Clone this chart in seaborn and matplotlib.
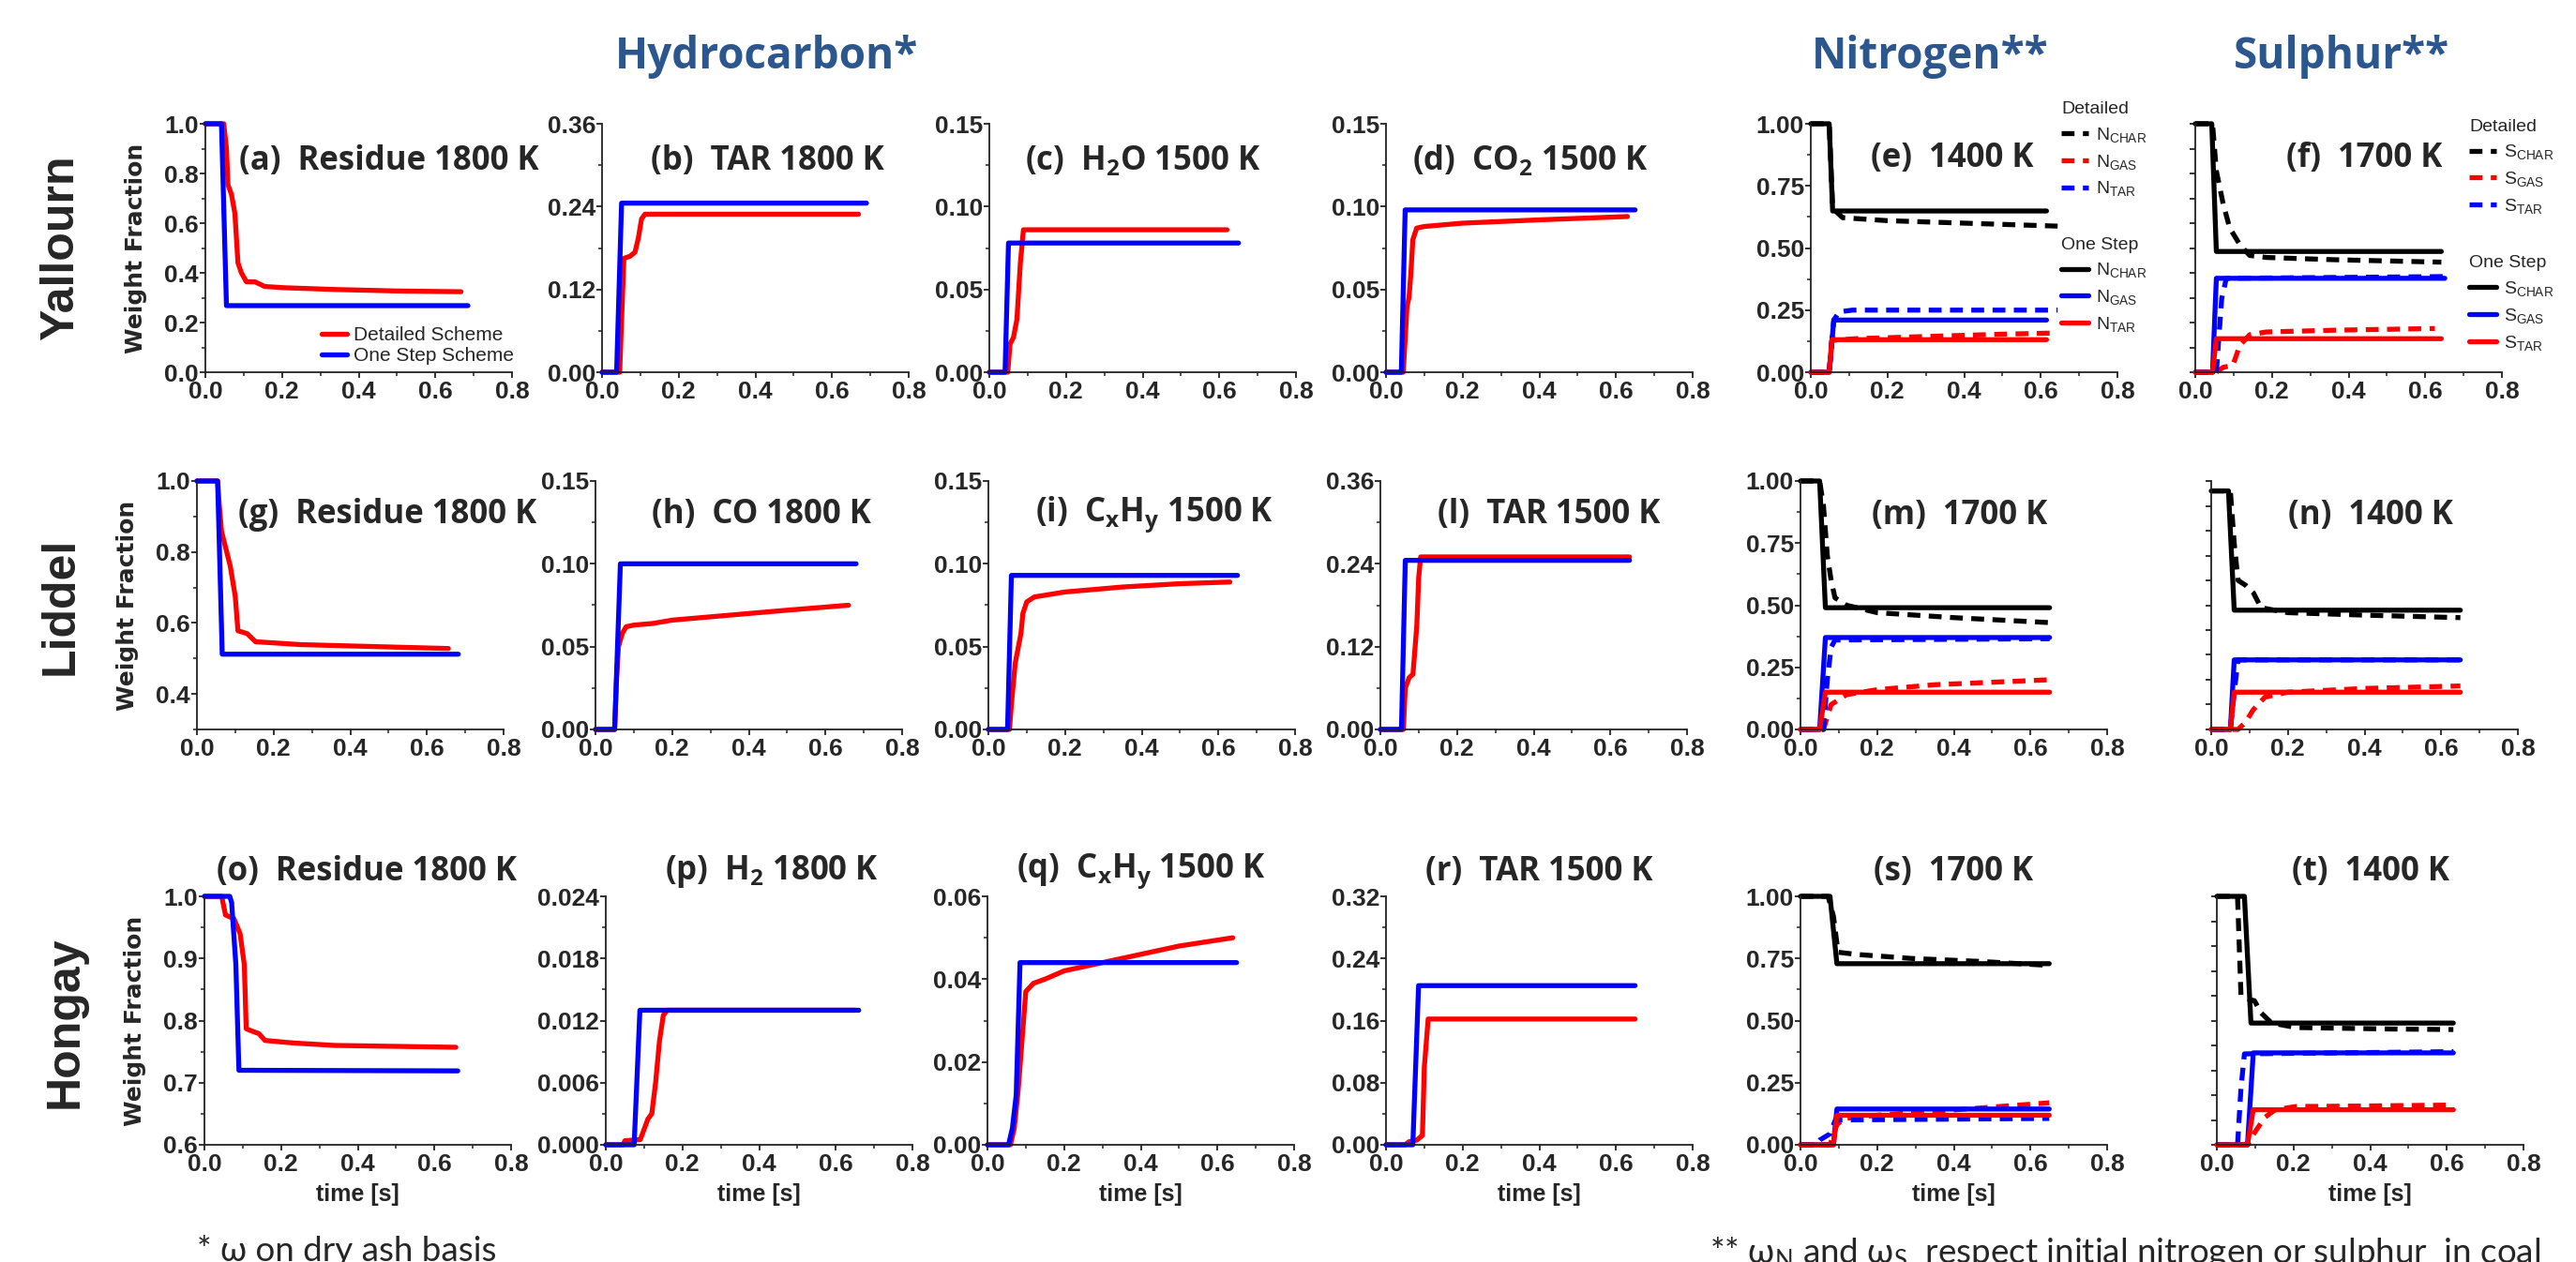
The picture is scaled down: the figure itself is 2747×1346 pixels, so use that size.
import numpy as np
import pandas as pd
import matplotlib
matplotlib.use("Agg")
import matplotlib.pyplot as plt
import seaborn as sns
from matplotlib.ticker import AutoMinorLocator, FormatStrFormatter

# ---------------- data ----------------
x_ticks = [0.0, 0.2, 0.4, 0.6, 0.8]

# Yallourn
a_det_t = [0, 0.048, 0.055, 0.059, 0.068, 0.077, 0.085, 0.094, 0.107, 0.129, 0.155, 0.207, 0.338, 0.5, 0.667]
a_det_w = [1, 1, 0.9, 0.754, 0.716, 0.64, 0.44, 0.40, 0.364, 0.364, 0.345, 0.34, 0.333, 0.327, 0.324]
a_one_t = [0, 0.042, 0.055, 0.685]
a_one_w = [1, 1, 0.268, 0.268]

b_det_t = [0, 0.046, 0.057, 0.073, 0.086, 0.095, 0.103, 0.112, 0.669]
b_det_w = [0, 0, 0.165, 0.168, 0.174, 0.195, 0.222, 0.229, 0.229]
b_one_t = [0, 0.038, 0.051, 0.69]
b_one_w = [0, 0, 0.245, 0.245]

c_det_t = [0, 0.048, 0.054, 0.063, 0.072, 0.081, 0.089, 0.62]
c_det_w = [0, 0, 0.017, 0.021, 0.032, 0.066, 0.086, 0.086]
c_one_t = [0, 0.041, 0.05, 0.65]
c_one_w = [0, 0, 0.078, 0.078]

d_det_t = [0, 0.045, 0.05, 0.055, 0.06, 0.065, 0.07, 0.08, 0.1, 0.2, 0.4, 0.63]
d_det_w = [0, 0, 0.02, 0.04, 0.045, 0.06, 0.08, 0.087, 0.088, 0.09, 0.092, 0.094]
d_one_t = [0, 0.04, 0.05, 0.65]
d_one_w = [0, 0, 0.098, 0.098]

e_char_det_t = [0, 0.048, 0.057, 0.083, 0.2, 0.4, 0.644]
e_char_det_w = [1, 1, 0.66, 0.622, 0.61, 0.60, 0.588]
e_gas_det_t = [0, 0.048, 0.055, 0.117, 0.325, 0.497, 0.644]
e_gas_det_w = [0, 0, 0.128, 0.135, 0.145, 0.153, 0.158]
e_tar_det_t = [0, 0.048, 0.06, 0.074, 0.109, 0.644]
e_tar_det_w = [0, 0, 0.21, 0.243, 0.25, 0.25]
e_char_one_t = [0, 0.048, 0.057, 0.615]
e_char_one_w = [1, 1, 0.649, 0.649]
e_gas_one_t = [0, 0.048, 0.06, 0.615]
e_gas_one_w = [0, 0, 0.21, 0.21]
e_tar_one_t = [0, 0.048, 0.055, 0.615]
e_tar_one_w = [0, 0, 0.131, 0.131]

f_char_det_t = [0, 0.045, 0.055, 0.073, 0.09, 0.116, 0.142, 0.185, 0.358, 0.642]
f_char_det_w = [1, 1, 0.81, 0.676, 0.58, 0.514, 0.47, 0.462, 0.453, 0.443]
f_gas_det_t = [0, 0.055, 0.073, 0.098, 0.116, 0.142, 0.185, 0.358, 0.625]
f_gas_det_w = [0, 0, 0.02, 0.027, 0.108, 0.151, 0.162, 0.169, 0.176]
f_tar_det_t = [0, 0.055, 0.062, 0.069, 0.081, 0.651]
f_tar_det_w = [0, 0, 0.15, 0.297, 0.378, 0.385]
f_char_one_t = [0, 0.043, 0.055, 0.642]
f_char_one_w = [1, 1, 0.486, 0.486]
f_gas_one_t = [0, 0.045, 0.055, 0.651]
f_gas_one_w = [0, 0, 0.378, 0.378]
f_tar_one_t = [0, 0.045, 0.055, 0.642]
f_tar_one_w = [0, 0, 0.135, 0.135]

# Liddel
g_det_t = [0, 0.054, 0.057, 0.064, 0.087, 0.1, 0.107, 0.131, 0.153, 0.184, 0.27, 0.445, 0.656]
g_det_w = [1, 1, 0.95, 0.859, 0.76, 0.675, 0.578, 0.57, 0.547, 0.545, 0.539, 0.534, 0.528]
g_one_t = [0, 0.054, 0.066, 0.682]
g_one_w = [1, 1, 0.512, 0.512]

h_det_t = [0, 0.05, 0.055, 0.06, 0.07, 0.08, 0.1, 0.15, 0.2, 0.3, 0.4, 0.5, 0.66]
h_det_w = [0, 0, 0.03, 0.05, 0.058, 0.062, 0.063, 0.064, 0.066, 0.068, 0.07, 0.072, 0.075]
h_one_t = [0, 0.05, 0.065, 0.68]
h_one_w = [0, 0, 0.1, 0.1]

i_det_t = [0, 0.055, 0.06, 0.07, 0.08, 0.085, 0.09, 0.1, 0.12, 0.2, 0.35, 0.5, 0.63]
i_det_w = [0, 0, 0.015, 0.04, 0.052, 0.058, 0.07, 0.077, 0.08, 0.083, 0.086, 0.088, 0.089]
i_one_t = [0, 0.05, 0.06, 0.65]
i_one_w = [0, 0, 0.093, 0.093]

l_det_t = [0, 0.06, 0.065, 0.075, 0.085, 0.095, 0.1, 0.105, 0.65]
l_det_w = [0, 0, 0.06, 0.075, 0.08, 0.15, 0.22, 0.25, 0.25]
l_one_t = [0, 0.055, 0.065, 0.65]
l_one_w = [0, 0, 0.245, 0.245]

m_char_det_t = [0, 0.05, 0.06, 0.07, 0.08, 0.09, 0.12, 0.2, 0.4, 0.65]
m_char_det_w = [1, 1, 0.9, 0.7, 0.6, 0.53, 0.5, 0.47, 0.45, 0.43]
m_gas_det_t = [0, 0.06, 0.07, 0.08, 0.1, 0.12, 0.2, 0.35, 0.5, 0.65]
m_gas_det_w = [0, 0, 0.05, 0.1, 0.12, 0.14, 0.16, 0.18, 0.19, 0.2]
m_tar_det_t = [0, 0.06, 0.07, 0.08, 0.09, 0.65]
m_tar_det_w = [0, 0, 0.2, 0.33, 0.36, 0.365]
m_char_one_t = [0, 0.05, 0.065, 0.65]
m_char_one_w = [1, 1, 0.49, 0.49]
m_gas_one_t = [0, 0.05, 0.065, 0.65]
m_gas_one_w = [0, 0, 0.37, 0.37]
m_tar_one_t = [0, 0.05, 0.065, 0.65]
m_tar_one_w = [0, 0, 0.15, 0.15]

n_char_det_t = [0, 0.05, 0.06, 0.07, 0.09, 0.11, 0.13, 0.2, 0.4, 0.65]
n_char_det_w = [0.96, 0.96, 0.75, 0.6, 0.58, 0.55, 0.49, 0.47, 0.46, 0.45]
n_gas_det_t = [0, 0.07, 0.09, 0.11, 0.14, 0.2, 0.4, 0.65]
n_gas_det_w = [0, 0, 0.03, 0.08, 0.13, 0.15, 0.165, 0.175]
n_tar_det_t = [0, 0.05, 0.06, 0.07, 0.65]
n_tar_det_w = [0, 0, 0.15, 0.28, 0.28]
n_char_one_t = [0, 0.045, 0.06, 0.65]
n_char_one_w = [0.96, 0.96, 0.48, 0.48]
n_gas_one_t = [0, 0.05, 0.06, 0.65]
n_gas_one_w = [0, 0, 0.28, 0.28]
n_tar_one_t = [0, 0.05, 0.06, 0.65]
n_tar_one_w = [0, 0, 0.15, 0.15]

# Hongay
o_det_t = [0, 0.045, 0.055, 0.077, 0.093, 0.104, 0.109, 0.12, 0.142, 0.158, 0.23, 0.339, 0.656]
o_det_w = [1, 1, 0.97, 0.964, 0.94, 0.89, 0.787, 0.784, 0.779, 0.768, 0.764, 0.76, 0.757]
o_one_t = [0, 0.066, 0.071, 0.082, 0.09, 0.661]
o_one_w = [1, 1, 0.99, 0.89, 0.72, 0.719]

p_det_t = [0, 0.045, 0.05, 0.09, 0.1, 0.11, 0.12, 0.13, 0.14, 0.15, 0.16, 0.65]
p_det_w = [0, 0, 0.0004, 0.0005, 0.0015, 0.0025, 0.003, 0.006, 0.01, 0.0125, 0.013, 0.013]
p_one_t = [0, 0.074, 0.089, 0.66]
p_one_w = [0, 0, 0.013, 0.013]

q_det_t = [0, 0.06, 0.07, 0.08, 0.09, 0.1, 0.12, 0.15, 0.2, 0.3, 0.4, 0.5, 0.64]
q_det_w = [0, 0, 0.004, 0.013, 0.025, 0.037, 0.039, 0.04, 0.042, 0.044, 0.046, 0.048, 0.05]
q_one_t = [0, 0.055, 0.065, 0.075, 0.085, 0.65]
q_one_w = [0, 0, 0.004, 0.012, 0.044, 0.044]

r_det_t = [0, 0.05, 0.06, 0.08, 0.095, 0.1, 0.11, 0.65]
r_det_w = [0, 0, 0.004, 0.006, 0.012, 0.1, 0.162, 0.162]
r_one_t = [0, 0.07, 0.085, 0.65]
r_one_w = [0, 0, 0.205, 0.205]

s_char_det_t = [0, 0.072, 0.086, 0.098, 0.148, 0.29, 0.47, 0.649]
s_char_det_w = [1, 1, 0.92, 0.775, 0.766, 0.75, 0.738, 0.722]
s_gas_det_t = [0, 0.077, 0.095, 0.113, 0.2, 0.38, 0.649]
s_gas_det_w = [0, 0, 0.081, 0.106, 0.119, 0.138, 0.169]
s_tar_det_t = [0, 0.04, 0.05, 0.077, 0.091, 0.649]
s_tar_det_w = [0, 0, 0.019, 0.044, 0.1, 0.106]
s_char_one_t = [0, 0.077, 0.095, 0.649]
s_char_one_w = [1, 1, 0.729, 0.729]
s_gas_one_t = [0, 0.086, 0.095, 0.649]
s_gas_one_w = [0, 0, 0.144, 0.144]
s_tar_one_t = [0, 0.086, 0.095, 0.649]
s_tar_one_w = [0, 0, 0.119, 0.119]

t_char_det_t = [0, 0.054, 0.063, 0.072, 0.098, 0.116, 0.143, 0.206, 0.456, 0.617]
t_char_det_w = [1, 1, 0.6, 0.59, 0.58, 0.53, 0.49, 0.472, 0.466, 0.464]
t_gas_det_t = [0, 0.08, 0.098, 0.125, 0.152, 0.206, 0.367, 0.617]
t_gas_det_w = [0, 0, 0.048, 0.11, 0.141, 0.154, 0.156, 0.16]
t_tar_det_t = [0, 0.054, 0.063, 0.072, 0.617]
t_tar_det_w = [0, 0, 0.229, 0.366, 0.375]
t_char_one_t = [0, 0.072, 0.089, 0.617]
t_char_one_w = [1, 1, 0.49, 0.49]
t_gas_one_t = [0, 0.08, 0.095, 0.617]
t_gas_one_w = [0, 0, 0.37, 0.37]
t_tar_one_t = [0, 0.08, 0.095, 0.617]
t_tar_one_w = [0, 0, 0.141, 0.141]

# tick sets
ticks_res = [0.0, 0.2, 0.4, 0.6, 0.8, 1.0]
ticks_res_o = [0.6, 0.7, 0.8, 0.9, 1.0]
ticks_tar = [0.0, 0.12, 0.24, 0.36]
ticks_015 = [0.0, 0.05, 0.10, 0.15]
ticks_h2 = [0.0, 0.006, 0.012, 0.018, 0.024]
ticks_cxhy = [0.0, 0.02, 0.04, 0.06]
ticks_tar_r = [0.0, 0.08, 0.16, 0.24, 0.32]
ticks_ns = [0.0, 0.25, 0.5, 0.75, 1.0]
ticks_s = [0.0, 0.1, 0.2, 0.3, 0.4, 0.5, 0.6, 0.7, 0.8, 0.9, 1.0]

coals = ["Yallourn", "Liddel", "Hongay"]
groups = ["Hydrocarbon*", "Nitrogen**", "Sulphur**"]
n_names = ["N$_{CHAR}$", "N$_{GAS}$", "N$_{TAR}$"]
s_names = ["S$_{CHAR}$", "S$_{GAS}$", "S$_{TAR}$"]

# ---------------- styling ----------------
sns.set_style("ticks")
ARIAL = ["Liberation Sans", "DejaVu Sans"]
CAL = ["Open Sans", "DejaVu Sans"]
plt.rcParams["font.family"] = ARIAL
plt.rcParams["font.weight"] = "bold"
plt.rcParams["mathtext.default"] = "regular"

RED, BLUE, BLACK = "#ff0000", "#0000ff", "#000000"
HEAD = "#2b568e"
LW = 3.8

W, H = 2747, 1346
AX_W, AX_H = 327, 265
row_top = [132, 513, 956]
col_left = [[219, 642, 1055, 1478, 1931, 2341],
            [210, 635, 1054, 1472, 1920, 2358],
            [218, 646, 1053, 1478, 1920, 2364]]

fig = plt.figure(figsize=(W / 100, H / 100), dpi=100)


def make_ax(r, c):
    left = col_left[r][c]
    top = row_top[r]
    return fig.add_axes([left / W, 1 - (top + AX_H) / H, AX_W / W, AX_H / H])


def line(ax, t, w, color, dashed=False, lw=LW):
    sns.lineplot(x=t, y=w, ax=ax, color=color, linewidth=lw,
                 estimator=None, sort=False, legend=False)
    ln = ax.get_lines()[-1]
    ln.set_clip_on(False)
    if dashed:
        ln.set_dashes([2.6, 1.7])
    return ln


def style(ax, ylim, yticks, fmt, labels=True, minor=True):
    ax.set_xlim(0, 0.8)
    ax.set_ylim(*ylim)
    ax.set_xticks(x_ticks)
    ax.set_yticks(yticks)
    ax.xaxis.set_minor_locator(AutoMinorLocator(2))
    if minor:
        ax.yaxis.set_minor_locator(AutoMinorLocator(2))
    ax.xaxis.set_major_formatter(FormatStrFormatter("%.1f"))
    ax.yaxis.set_major_formatter(FormatStrFormatter(fmt))
    sns.despine(ax=ax)
    for s in ["left", "bottom"]:
        ax.spines[s].set_linewidth(1.3)
        ax.spines[s].set_color("#222222")
    ax.tick_params(which="major", length=4.5, width=1.3, labelsize=19, color="#222222")
    ax.tick_params(which="minor", length=3, width=1.1, color="#222222")
    ax.tick_params(axis="y", pad=0.5)
    ax.tick_params(axis="x", pad=2)
    if not labels:
        ax.tick_params(axis="y", labelleft=False)
    ax.set_xlabel("")
    ax.set_ylabel("")


def title(ax, text, x, y):
    ax.text(x, y, text, transform=ax.transAxes, ha="center", va="center",
            fontsize=25, family=CAL, fontweight="bold")


def labels(ax, r, c):
    if c == 0:
        ax.set_ylabel("Weight Fraction", fontsize=18, fontweight="bold",
                      family=["DejaVu Sans"])
        ax.yaxis.set_label_coords(-0.19, 0.5)
    if r == 2:
        ax.set_xlabel("time [s]", fontsize=18, fontweight="bold", labelpad=6)


# hydrocarbon panels: (row, col, title, ylim, ticks, fmt, det_t, det_w, one_t, one_w, tx, ty)
hc_panels = [
    (0, 0, "(a)  Residue 1800 K", (0, 1.0), ticks_res, "%.1f", a_det_t, a_det_w, a_one_t, a_one_w, 0.6, 0.85),
    (0, 1, "(b)  TAR 1800 K", (0, 0.36), ticks_tar, "%.2f", b_det_t, b_det_w, b_one_t, b_one_w, 0.54, 0.85),
    (0, 2, "(c)  H$_2$O 1500 K", (0, 0.15), ticks_015, "%.2f", c_det_t, c_det_w, c_one_t, c_one_w, 0.5, 0.85),
    (0, 3, "(d)  CO$_2$ 1500 K", (0, 0.15), ticks_015, "%.2f", d_det_t, d_det_w, d_one_t, d_one_w, 0.47, 0.85),
    (1, 0, "(g)  Residue 1800 K", (0.3, 1.0), ticks_res[2:], "%.1f", g_det_t, g_det_w, g_one_t, g_one_w, 0.62, 0.865),
    (1, 1, "(h)  CO 1800 K", (0, 0.15), ticks_015, "%.2f", h_det_t, h_det_w, h_one_t, h_one_w, 0.54, 0.865),
    (1, 2, "(i)  C$_x$H$_y$ 1500 K", (0, 0.15), ticks_015, "%.2f", i_det_t, i_det_w, i_one_t, i_one_w, 0.54, 0.865),
    (1, 3, "(l)  TAR 1500 K", (0, 0.36), ticks_tar, "%.2f", l_det_t, l_det_w, l_one_t, l_one_w, 0.55, 0.865),
    (2, 0, "(o)  Residue 1800 K", (0.6, 1.0), ticks_res_o, "%.1f", o_det_t, o_det_w, o_one_t, o_one_w, 0.53, 1.1),
    (2, 1, "(p)  H$_2$ 1800 K", (0, 0.024), ticks_h2, "%.3f", p_det_t, p_det_w, p_one_t, p_one_w, 0.54, 1.1),
    (2, 2, "(q)  C$_x$H$_y$ 1500 K", (0, 0.06), ticks_cxhy, "%.2f", q_det_t, q_det_w, q_one_t, q_one_w, 0.5, 1.1),
    (2, 3, "(r)  TAR 1500 K", (0, 0.32), ticks_tar_r, "%.2f", r_det_t, r_det_w, r_one_t, r_one_w, 0.5, 1.1),
]

for (r, c, ttl, ylim, yt, fmt, dt, dw, ot, ow, tx, ty) in hc_panels:
    ax = make_ax(r, c)
    l_det = line(ax, dt, dw, RED)
    l_one = line(ax, ot, ow, BLUE)
    style(ax, ylim, yt, fmt)
    title(ax, ttl, tx, ty)
    labels(ax, r, c)
    if r == 0 and c == 0:
        ax.legend([l_det, l_one], ["Detailed Scheme", "One Step Scheme"],
                  loc="lower left", bbox_to_anchor=(0.38, 0.03), frameon=False,
                  prop={"family": ARIAL, "weight": "normal", "size": 15},
                  handlelength=1.3, handletextpad=0.3, labelspacing=0.15,
                  borderpad=0, borderaxespad=0)

# nitrogen / sulphur panels
ns_panels = [
    (0, 4, "(e)  1400 K", e_char_det_t, e_char_det_w, e_gas_det_t, e_gas_det_w, e_tar_det_t, e_tar_det_w,
     e_char_one_t, e_char_one_w, e_gas_one_t, e_gas_one_w, e_tar_one_t, e_tar_one_w, 0.46, 0.86),
    (0, 5, "(f)  1700 K", f_char_det_t, f_char_det_w, f_gas_det_t, f_gas_det_w, f_tar_det_t, f_tar_det_w,
     f_char_one_t, f_char_one_w, f_gas_one_t, f_gas_one_w, f_tar_one_t, f_tar_one_w, 0.55, 0.86),
    (1, 4, "(m)  1700 K", m_char_det_t, m_char_det_w, m_gas_det_t, m_gas_det_w, m_tar_det_t, m_tar_det_w,
     m_char_one_t, m_char_one_w, m_gas_one_t, m_gas_one_w, m_tar_one_t, m_tar_one_w, 0.52, 0.86),
    (1, 5, "(n)  1400 K", n_char_det_t, n_char_det_w, n_gas_det_t, n_gas_det_w, n_tar_det_t, n_tar_det_w,
     n_char_one_t, n_char_one_w, n_gas_one_t, n_gas_one_w, n_tar_one_t, n_tar_one_w, 0.52, 0.86),
    (2, 4, "(s)  1700 K", s_char_det_t, s_char_det_w, s_gas_det_t, s_gas_det_w, s_tar_det_t, s_tar_det_w,
     s_char_one_t, s_char_one_w, s_gas_one_t, s_gas_one_w, s_tar_one_t, s_tar_one_w, 0.5, 1.1),
    (2, 5, "(t)  1400 K", t_char_det_t, t_char_det_w, t_gas_det_t, t_gas_det_w, t_tar_det_t, t_tar_det_w,
     t_char_one_t, t_char_one_w, t_gas_one_t, t_gas_one_w, t_tar_one_t, t_tar_one_w, 0.5, 1.1),
]

for p in ns_panels:
    r, c, ttl = p[0], p[1], p[2]
    cdt, cdw, gdt, gdw, tdt, tdw, cot, cow, got, gow, tot, tow, tx, ty = p[3:]
    ax = make_ax(r, c)
    h_cd = line(ax, cdt, cdw, BLACK, dashed=True)
    h_gd = line(ax, gdt, gdw, RED, dashed=True)
    h_td = line(ax, tdt, tdw, BLUE, dashed=True)
    h_co = line(ax, cot, cow, BLACK)
    h_go = line(ax, got, gow, BLUE)
    h_to = line(ax, tot, tow, RED)
    if c == 4:
        style(ax, (0, 1.0), ticks_ns, "%.2f")
    else:
        style(ax, (0, 1.0), ticks_s, "%.2f", labels=False, minor=False)
    title(ax, ttl, tx, ty)
    labels(ax, r, c)
    if r == 0:
        names = n_names if c == 4 else s_names
        x0 = 0.817 if c == 4 else 0.893
        y_det = 1.09 if c == 4 else 1.02
        y_one = 0.545 if c == 4 else 0.47
        kw = dict(loc="upper left", frameon=False, alignment="left",
                  prop={"family": ARIAL, "weight": "normal", "size": 14},
                  title_fontproperties={"family": ARIAL, "weight": "normal", "size": 14},
                  handlelength=1.5, handletextpad=0.4, labelspacing=0.45,
                  borderpad=0, borderaxespad=0)
        leg1 = ax.legend([h_cd, h_gd, h_td], names, title="Detailed",
                         bbox_to_anchor=(x0, y_det), **kw)
        ax.add_artist(leg1)
        ax.legend([h_co, h_go, h_to], names, title="One Step",
                  bbox_to_anchor=(x0, y_one), **kw)

# headers, row labels, footnotes
head_x = [818, 2058, 2497]
for txt, hx in zip(groups, head_x):
    fig.text(hx / W, 1 - 73 / H, txt, ha="center", va="baseline", fontsize=33,
             family=CAL, fontweight="bold", color=HEAD)

row_y = [264, 646, 1090]
row_x = [65, 65, 70]
for txt, ry, rx in zip(coals, row_y, row_x):
    fig.text(rx / W, 1 - ry / H, txt, rotation=90, ha="center", va="center",
             fontsize=36, family=ARIAL, fontweight="bold")

fig.text(210 / W, 1 - 1317 / H, "* \u03c9 on dry ash basis", ha="left", va="top",
         fontsize=26.5, family=["Lato", "DejaVu Sans"], fontweight="normal")
fig.text(1823 / W, 1 - 1317 / H,
         "** \u03c9$_N$ and \u03c9$_S$  respect initial nitrogen or sulphur  in coal",
         ha="left", va="top", fontsize=26.5, family=["Lato", "DejaVu Sans"], fontweight="normal")

fig.savefig("out.png", dpi=100)
